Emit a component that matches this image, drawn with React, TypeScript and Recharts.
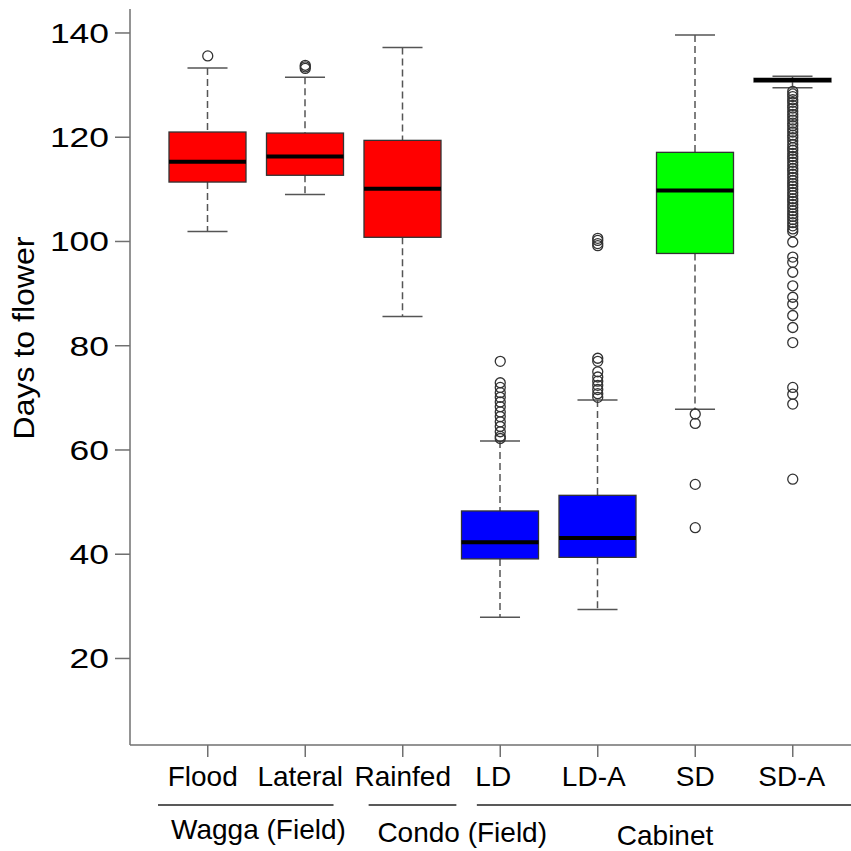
import React from "react";
import { ComposedChart, Bar, Scatter, XAxis, YAxis } from "recharts";

// ---------- data ----------
const categories = ["Flood", "Lateral", "Rainfed", "LD", "LD-A", "SD", "SD-A"];
const lowerWhisker = [101.9, 109.0, 85.6, 27.9, 29.4, 67.8, 129.5];
const quartile1 = [111.4, 112.7, 100.8, 39.1, 39.4, 97.7, 130.6];
const medians = [115.3, 116.3, 110.1, 42.3, 43.1, 109.8, 131.0];
const quartile3 = [121.0, 120.8, 119.4, 48.3, 51.3, 117.1, 131.3];
const upperWhisker = [133.3, 131.5, 137.2, 61.7, 69.6, 139.6, 131.7];

const outliersFlood = [135.6];
const outliersLateral = [133.2, 133.5, 133.8];
const outliersRainfed: number[] = [];
const outliersLD = [77.0, 72.9, 72.0, 71.0, 70.1, 69.2, 68.3, 67.3, 66.4, 65.4, 64.5, 63.5, 62.6, 62.2];
const outliersLDA = [100.6, 100.2, 99.6, 99.2, 77.6, 77.0, 75.0, 74.0, 73.2, 72.4, 71.6, 70.8, 70.1];
const outliersSD = [66.9, 65.1, 53.4, 45.1];
const outliersSDA = [
  128.8, 128.3, 127.8, 127.2, 126.7, 126.1, 125.6, 125.0, 124.4, 123.9, 123.3, 122.7,
  122.2, 121.6, 121.0, 120.4, 119.9, 119.3, 118.6, 118.0, 117.5, 116.9, 116.3, 115.8,
  115.2, 114.6, 114.0, 113.5, 112.9, 112.3, 111.7, 111.1, 110.6, 110.0, 109.4, 108.8,
  108.2, 107.7, 107.1, 106.5, 105.9, 105.3, 104.8, 104.2, 103.6, 103.0, 102.4, 101.9,
  99.9, 97.0, 96.0, 94.1, 91.5, 89.3, 88.0, 85.8, 83.5, 80.6, 72.0, 70.7, 68.8, 54.4,
];
const outlierLists = [outliersFlood, outliersLateral, outliersRainfed, outliersLD, outliersLDA, outliersSD, outliersSDA];

const yTicks = [20, 40, 60, 80, 100, 120, 140];
const yLabel = "Days to flower";

const groupLabels = ["Wagga (Field)", "Condo (Field)", "Cabinet"];
const groupFirst = ["Flood", "Rainfed", "LD"];
// group extents / label centres in category-position units (1 = first box)
const groupLineFrom = [0.49, 2.65, 3.76];
const groupLineTo = [2.29, 3.55, 7.9];
const groupLabelAt = [1.52, 3.61, 5.69];

// ---------- styling / layout ----------
const BOX_COLORS = ["#FF0000", "#FF0000", "#FF0000", "#0000FF", "#0000FF", "#00FF00", "#FF0000"];
const FONT = "'Liberation Sans', Arial, sans-serif";
const CHART_W = 871;
const CHART_H = 851;
const Y_W = 130;
const PAD_L = 29;
const PAD_R = 29.5;
const BAND = (CHART_W - Y_W - PAD_L - PAD_R) / categories.length;
const AXIS_COLOR = "#707070";
const LABEL_DX = [-5, -5, 0, -7, -4, 0, -1];
const GROUP_DY = [82, 85, 88];
const Y_DIGIT_W = 19.7;

const boxData = categories.map((c, i) => ({
  cat: c,
  range: [lowerWhisker[i], upperWhisker[i]],
  lw: lowerWhisker[i],
  q1: quartile1[i],
  med: medians[i],
  q3: quartile3[i],
  uw: upperWhisker[i],
  idx: i,
}));

const outlierPoints = outlierLists.flatMap((vals, i) => vals.map((v) => ({ pos: i + 1, value: v })));

const BoxShape = (props: any) => {
  const { x, y, width, height, payload } = props;
  if (x == null || y == null || !payload) return null;
  const top = Math.min(y, y + height);
  const bottom = Math.max(y, y + height);
  const k = (bottom - top) / (payload.uw - payload.lw);
  const yOf = (v: number) => top + (payload.uw - v) * k;
  const cx = x + width / 2;
  const capHalf = width * 0.26;
  const fill = BOX_COLORS[payload.idx];
  return (
    <g>
      <line x1={cx} x2={cx} y1={yOf(payload.uw)} y2={yOf(payload.q3)} stroke="#555" strokeWidth={1.5} strokeDasharray="7 4" />
      <line x1={cx} x2={cx} y1={yOf(payload.q1)} y2={yOf(payload.lw)} stroke="#555" strokeWidth={1.5} strokeDasharray="7 4" />
      <line x1={cx - capHalf} x2={cx + capHalf} y1={yOf(payload.uw)} y2={yOf(payload.uw)} stroke="#555" strokeWidth={1.5} />
      <line x1={cx - capHalf} x2={cx + capHalf} y1={yOf(payload.lw)} y2={yOf(payload.lw)} stroke="#555" strokeWidth={1.5} />
      <rect x={x} y={yOf(payload.q3)} width={width} height={yOf(payload.q1) - yOf(payload.q3)} fill={fill} stroke="#333" strokeWidth={1.3} />
      <line x1={x} x2={x + width} y1={yOf(payload.med)} y2={yOf(payload.med)} stroke="#000" strokeWidth={4} />
    </g>
  );
};

const OutlierShape = (props: any) => {
  const { cx, cy } = props;
  if (cx == null || cy == null) return null;
  return <circle cx={cx} cy={cy} r={5} fill="none" stroke="#333" strokeWidth={1.3} />;
};

const XTick = (props: any) => {
  const { x, y, payload } = props;
  const i = categories.indexOf(payload.value);
  const g = groupFirst.indexOf(payload.value);
  const pos = i + 1;
  const toPx = (p: number) => x + (p - pos) * BAND;
  return (
    <g>
      <text x={x + LABEL_DX[i]} y={y + 29} textAnchor="middle" fontSize={28} fontFamily={FONT} fill="#000">
        {payload.value}
      </text>
      {g >= 0 && (
        <g>
          <line x1={toPx(groupLineFrom[g])} x2={toPx(groupLineTo[g])} y1={y + 48} y2={y + 48} stroke="#222" strokeWidth={1.5} />
          <text x={toPx(groupLabelAt[g])} y={y + GROUP_DY[g]} textAnchor="middle" fontSize={28} fontFamily={FONT} fill="#000">
            {groupLabels[g]}
          </text>
        </g>
      )}
    </g>
  );
};

const YTick = (props: any) => {
  const { x, y, payload } = props;
  const s = String(payload.value);
  return (
    <text
      x={x}
      y={y + 10}
      textAnchor="end"
      fontSize={28}
      fontFamily={FONT}
      fill="#000"
      textLength={s.length * Y_DIGIT_W}
      lengthAdjust="spacingAndGlyphs"
    >
      {s}
    </text>
  );
};

const YLabel = () => (
  <text
    x={33.5}
    y={338}
    transform="rotate(-90 33.5 338)"
    textAnchor="middle"
    fontSize={29}
    fontFamily={FONT}
    fill="#000"
    textLength={203}
    lengthAdjust="spacingAndGlyphs"
  >
    {yLabel}
  </text>
);

export default function App() {
  return (
    <div style={{ position: "fixed", left: 0, top: 0, width: 851, height: 851, overflow: "hidden", background: "#fff" }}>
      <ComposedChart width={CHART_W} height={CHART_H} data={boxData} margin={{ top: 9, right: 0, bottom: 0, left: 0 }}>
        <XAxis
          dataKey="cat"
          type="category"
          allowDuplicatedCategory={false}
          height={106}
          padding={{ left: PAD_L, right: PAD_R }}
          axisLine={{ stroke: AXIS_COLOR, strokeWidth: 1.5 }}
          tickLine={{ stroke: AXIS_COLOR, strokeWidth: 1.5 }}
          tickSize={12}
          tickMargin={0}
          tick={<XTick />}
          interval={0}
        />
        <XAxis
          xAxisId="top"
          dataKey="cat"
          orientation="top"
          height={0}
          tick={false}
          tickLine={false}
          axisLine={{ stroke: AXIS_COLOR, strokeWidth: 1.5 }}
        />
        <XAxis xAxisId="num" type="number" dataKey="pos" domain={[0.5, 7.5]} padding={{ left: PAD_L, right: PAD_R }} hide />
        <YAxis
          width={Y_W}
          domain={[3.4, 144.6]}
          ticks={yTicks}
          allowDataOverflow
          axisLine={{ stroke: AXIS_COLOR, strokeWidth: 1.5 }}
          tickLine={{ stroke: AXIS_COLOR, strokeWidth: 1.5 }}
          tickSize={15}
          tickMargin={6}
          tick={<YTick />}
          label={<YLabel />}
        />
        <Bar dataKey="range" barSize={77} shape={(p: any) => <BoxShape {...p} />} isAnimationActive={false} />
        <Scatter
          xAxisId="num"
          data={outlierPoints}
          dataKey="value"
          shape={(p: any) => <OutlierShape {...p} />}
          isAnimationActive={false}
        />
      </ComposedChart>
    </div>
  );
}
